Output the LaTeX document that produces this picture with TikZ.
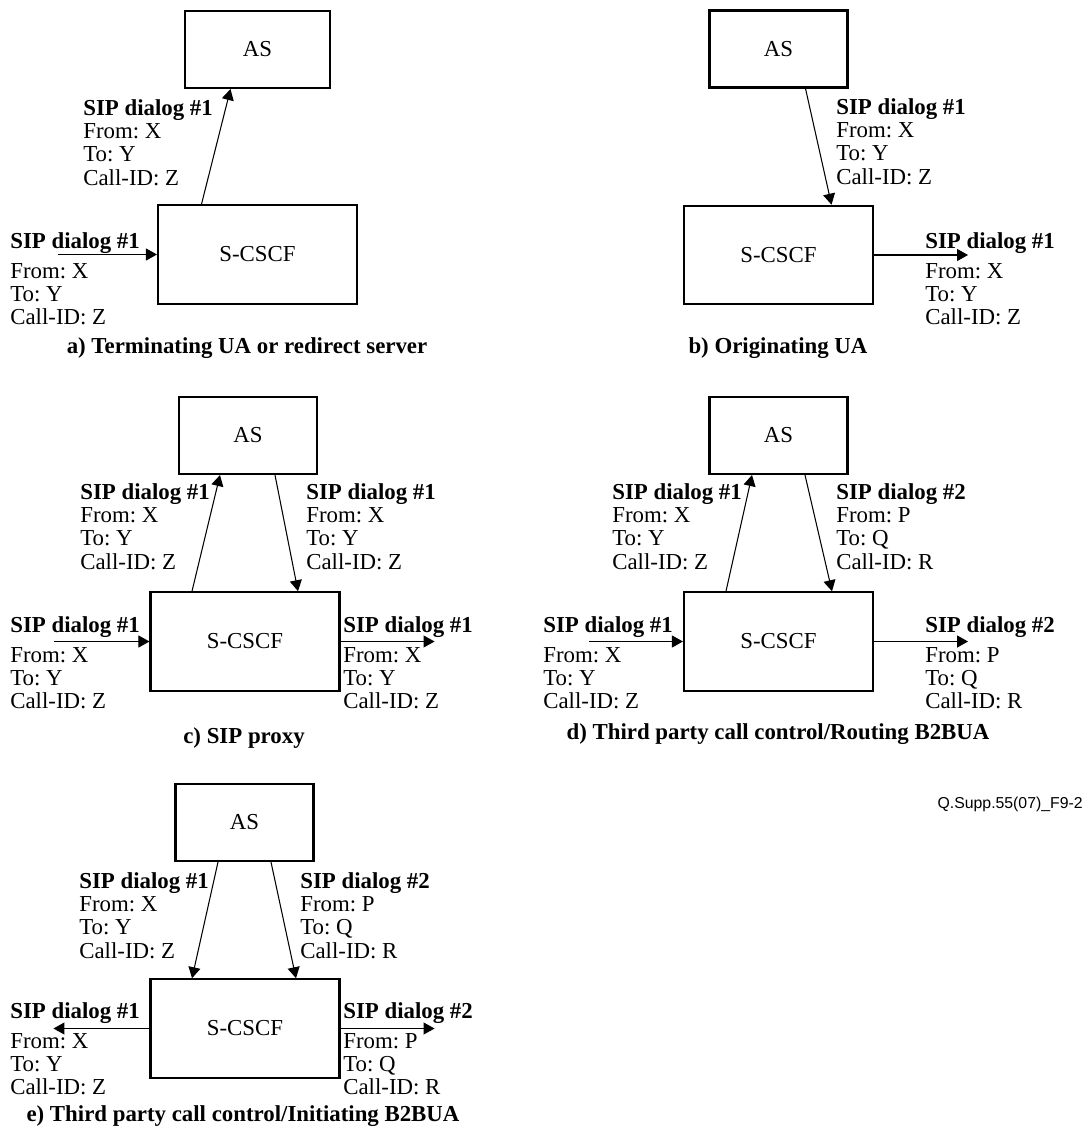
\documentclass[tikz,border=0pt]{standalone}
\usepackage{fontspec}
\setmainfont{Liberation Serif}
\newfontfamily\tagfont{Liberation Sans}
\usetikzlibrary{arrows.meta}
\frenchspacing
\newcommand{\sipdlg}[4]{\textbf{SIP dialog \##1}\\From: #2\\To: #3\\Call-ID: #4}
\newcommand{\sipside}[4]{\textbf{SIP dialog \##1}\\[3.7pt]From: #2\\To: #3\\Call-ID: #4}
\tikzset{
	ebox/.style={draw,line width=1.2pt,inner sep=0pt,font=\fontsize{13}{13.5}\selectfont},
	asbox/.style={ebox,minimum width=2.76cm,minimum height=1.54cm},
	csbox/.style={ebox,minimum width=3.78cm,minimum height=1.97cm},
	lbl/.style={anchor=north west,inner sep=0pt,align=left,font=\fontsize{13}{13.3}\selectfont},
	figcap/.style={anchor=north,inner sep=0pt,font=\fontsize{13}{13.5}\selectfont\bfseries},
	sig/.style={line width=0.6pt,-{Triangle[length=0.22cm,width=0.24cm]}}
}
\begin{document}
\begin{tikzpicture}[x=0.02cm,y=-0.02cm]
		\path[use as bounding box] (0,0) rectangle (1091,1135);
		
		% a)
		\node[asbox,minimum width=2.9cm] (asA) at (257.5,49.5) {AS};
		\node[csbox,minimum width=3.98cm] (cscfA) at (257.5,254.5) {S-CSCF};
		\coordinate (inA) at ([shift={(-99,0)}]cscfA.west);
		\draw[sig] ([shift={(-56,0)}]cscfA.north) -- ([shift={(-27,0)}]asA.south);
		\draw[sig] (inA) -- (cscfA.west);
		\node[lbl] (dlgA1) at (83,99) {\sipdlg{1}{X}{Y}{Z}};
		\node[lbl] (dlgA2) at (10,232) {\sipside{1}{X}{Y}{Z}};
		\node[figcap] (capA) at (247,337) {a) Terminating UA or redirect server};
		
		% b)
		\node[asbox] (asB) at (778.5,49) {AS};
		\node[csbox] (cscfB) at (778.5,255) {S-CSCF};
		\coordinate (outB) at ([shift={(94,0)}]cscfB.east);
		\draw[sig] ([shift={(27,0)}]asB.south) -- ([shift={(53,0)}]cscfB.north);
		\draw[sig] (cscfB.east) -- (outB);
		\node[lbl] (dlgB1) at (836,98) {\sipdlg{1}{X}{Y}{Z}};
		\node[lbl] (dlgB2) at (925,232) {\sipside{1}{X}{Y}{Z}};
		\node[figcap] (capB) at (778,337) {b) Originating UA};
		
		% c)
		\node[asbox] (asC) at (248,435.5) {AS};
		\node[csbox] (cscfC) at (245,641.5) {S-CSCF};
		\coordinate (inC) at ([shift={(-95,0)}]cscfC.west);
		\coordinate (outC) at ([shift={(94,0)}]cscfC.east);
		\draw[sig] ([shift={(-53,0)}]cscfC.north) -- ([shift={(-28,0)}]asC.south);
		\draw[sig] ([shift={(27,0)}]asC.south) -- ([shift={(53,0)}]cscfC.north);
		\draw[sig] (inC) -- (cscfC.west);
		\draw[sig] (cscfC.east) -- (outC);
		\node[lbl] (dlgC1) at (80,483) {\sipdlg{1}{X}{Y}{Z}};
		\node[lbl] (dlgC2) at (306,483) {\sipdlg{1}{X}{Y}{Z}};
		\node[lbl] (dlgC3) at (10,616) {\sipside{1}{X}{Y}{Z}};
		\node[lbl] (dlgC4) at (343,616) {\sipside{1}{X}{Y}{Z}};
		\node[figcap] (capC) at (244,727) {c) SIP proxy};
		
		% d)
		\node[asbox] (asD) at (778.5,435.5) {AS};
		\node[csbox] (cscfD) at (778.5,641.5) {S-CSCF};
		\coordinate (inD) at ([shift={(-94,0)}]cscfD.west);
		\coordinate (outD) at ([shift={(94,0)}]cscfD.east);
		\draw[sig] ([shift={(-52.5,0)}]cscfD.north) -- ([shift={(-26.5,0)}]asD.south);
		\draw[sig] ([shift={(26.5,0)}]asD.south) -- ([shift={(53.5,0)}]cscfD.north);
		\draw[sig] (inD) -- (cscfD.west);
		\draw[sig] (cscfD.east) -- (outD);
		\node[lbl] (dlgD1) at (612,483) {\sipdlg{1}{X}{Y}{Z}};
		\node[lbl] (dlgD2) at (836,483) {\sipdlg{2}{P}{Q}{R}};
		\node[lbl] (dlgD3) at (543,616) {\sipside{1}{X}{Y}{Z}};
		\node[lbl] (dlgD4) at (925,616) {\sipside{2}{P}{Q}{R}};
		\node[figcap] (capD) at (778,723) {d) Third party call control/Routing B2BUA};
		
		\node[anchor=north east,inner sep=0pt,font=\tagfont\fontsize{9}{10}\selectfont] (figtag) at (1083,797) {Q.Supp.55(07)\_F9-2};
		
		% e)
		\node[asbox] (asE) at (244.5,822.5) {AS};
		\node[csbox] (cscfE) at (245,1028.5) {S-CSCF};
		\coordinate (outE1) at ([shift={(-96,0)}]cscfE.west);
		\coordinate (outE2) at ([shift={(94,0)}]cscfE.east);
		\draw[sig] ([shift={(-26.5,0)}]asE.south) -- ([shift={(-53,0)}]cscfE.north);
		\draw[sig] ([shift={(26.5,0)}]asE.south) -- ([shift={(51,0)}]cscfE.north);
		\draw[sig] (cscfE.west) -- (outE1);
		\draw[sig] (cscfE.east) -- (outE2);
		\node[lbl] (dlgE1) at (79,872) {\sipdlg{1}{X}{Y}{Z}};
		\node[lbl] (dlgE2) at (300,872) {\sipdlg{2}{P}{Q}{R}};
		\node[lbl] (dlgE3) at (10,1002) {\sipside{1}{X}{Y}{Z}};
		\node[lbl] (dlgE4) at (343,1002) {\sipside{2}{P}{Q}{R}};
		\node[figcap] (capE) at (243,1105) {e) Third party call control/Initiating B2BUA};
		
	\end{tikzpicture}
\end{document}
